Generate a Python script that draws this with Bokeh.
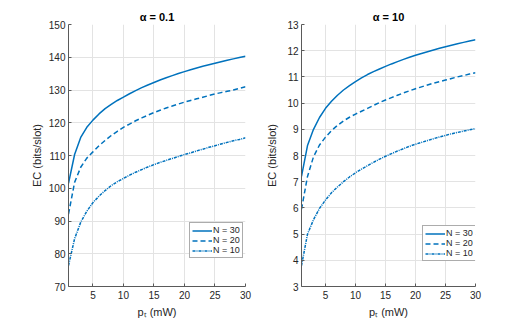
from bokeh.plotting import figure
from bokeh.layouts import row
from bokeh.models import Range1d, FixedTicker, Legend, LegendItem
from bokeh.embed import file_html
from bokeh.resources import INLINE

# ---- data ----
pt = [1, 2, 3, 4, 5, 6, 7, 8, 9, 10, 11, 12, 13, 14, 15,
      16, 17, 18, 19, 20, 21, 22, 23, 24, 25, 26, 27, 28, 29, 30]

a01_n30 = [101.5, 110.3, 115.5, 118.6, 120.8, 122.7, 124.3, 125.6, 126.8, 127.8,
           128.86, 129.82, 130.71, 131.53, 132.3, 133.04, 133.74, 134.4, 135.03, 135.62,
           136.18, 136.72, 137.23, 137.72, 138.19, 138.65, 139.08, 139.5, 139.91, 140.3]
a01_n20 = [92.1, 101.8, 106.4, 109.2, 111.1, 113.0, 114.6, 116.1, 117.4, 118.6,
           119.6, 120.6, 121.5, 122.3, 123.1, 123.8, 124.5, 125.1, 125.7, 126.3,
           126.8, 127.3, 127.8, 128.3, 128.8, 129.2, 129.6, 130.0, 130.5, 131.0]
a01_n10 = [76.4, 84.6, 89.6, 93.0, 95.6, 97.6, 99.3, 100.8, 102.0, 103.0,
           104.0, 104.9, 105.7, 106.5, 107.2, 107.9, 108.5, 109.1, 109.7, 110.3,
           110.8, 111.4, 111.9, 112.5, 113.0, 113.5, 114.0, 114.5, 114.9, 115.4]

a10_n30 = [7.2, 8.38, 9.0, 9.45, 9.8, 10.07, 10.3, 10.5, 10.67, 10.82,
           10.96, 11.09, 11.2, 11.3, 11.4, 11.495, 11.584, 11.668, 11.748, 11.823,
           11.895, 11.963, 12.028, 12.091, 12.151, 12.209, 12.265, 12.318, 12.37, 12.42]
a10_n20 = [5.95, 7.2, 7.95, 8.4, 8.7, 8.95, 9.15, 9.32, 9.46, 9.58,
           9.69, 9.8, 9.91, 10.02, 10.12, 10.21, 10.3, 10.39, 10.47, 10.55,
           10.62, 10.69, 10.76, 10.82, 10.88, 10.94, 11.0, 11.05, 11.11, 11.16]
a10_n10 = [3.8, 5.0, 5.55, 5.98, 6.3, 6.58, 6.8, 7.0, 7.18, 7.34,
           7.48, 7.61, 7.74, 7.86, 7.97, 8.07, 8.17, 8.26, 8.35, 8.43,
           8.5, 8.57, 8.64, 8.71, 8.77, 8.83, 8.88, 8.93, 8.98, 9.03]

x_ticks = [5, 10, 15, 20, 25, 30]
left_yticks = [70, 80, 90, 100, 110, 120, 130, 140, 150]
right_yticks = [3, 4, 5, 6, 7, 8, 9, 10, 11, 12, 13]
labels = ["N = 30", "N = 20", "N = 10"]
titles = ["\u03b1 = 0.1", "\u03b1 = 10"]

COLOR = "#0072BD"
TXT = "#262626"
FONT = "Liberation Sans"
DASHES = ["solid", "5 3", "3 1 1 1"]


def make_panel(title, series, yr, yticks, bl, br, lab_standoff, leg_loc):
    p = figure(width=263, height=320, output_backend="svg", toolbar_location=None,
               x_range=Range1d(1, 30), y_range=Range1d(*yr),
               min_border_left=bl, min_border_right=br,
               min_border_top=24, min_border_bottom=32)
    p.outline_line_color = None
    p.title.text = title
    p.title.align = "center"
    p.title.text_font = FONT
    p.title.text_font_size = "11px"
    p.title.text_font_style = "bold"
    p.title.text_color = "#000000"
    p.title.standoff = 3
    p.title.offset = 0

    items = []
    for ys, lab, dash in zip(series, labels, DASHES):
        r = p.line(pt, ys, line_color=COLOR, line_width=1.5, line_dash=dash)
        items.append(LegendItem(label=lab, renderers=[r]))

    for ax in (p.xaxis[0], p.yaxis[0]):
        ax.axis_line_color = "#5a5a5a"
        ax.major_tick_line_color = "#5a5a5a"
        ax.major_tick_in = 3
        ax.major_tick_out = 0
        ax.minor_tick_line_color = None
        ax.major_label_text_font = FONT
        ax.major_label_text_font_size = "10px"
        ax.major_label_text_color = TXT
        ax.axis_label_text_font = FONT
        ax.axis_label_text_font_size = "11px"
        ax.axis_label_text_font_style = "normal"
        ax.axis_label_text_color = TXT
    p.xaxis.ticker = FixedTicker(ticks=x_ticks)
    p.yaxis.ticker = FixedTicker(ticks=yticks)
    p.xaxis.axis_label = "p\u209c (mW)"
    p.yaxis.axis_label = "EC (bits/slot)"
    p.xaxis.major_label_standoff = 4
    p.yaxis.major_label_standoff = 3
    p.xaxis.axis_label_standoff = 4
    p.yaxis.axis_label_standoff = lab_standoff

    p.xgrid.ticker = FixedTicker(ticks=x_ticks)
    p.ygrid.ticker = FixedTicker(ticks=yticks)
    for g in (p.xgrid[0], p.ygrid[0]):
        g.grid_line_color = "#e3e3e3"
        g.grid_line_width = 1

    leg = Legend(items=items, location=leg_loc)
    leg.label_text_font = FONT
    leg.label_text_font_size = "9px"
    leg.label_text_color = TXT
    leg.glyph_width = 20
    leg.glyph_height = 9
    leg.label_height = 9
    leg.label_standoff = 1
    leg.spacing = 0
    leg.padding = 2
    leg.margin = 0
    leg.border_line_color = "#5a5a5a"
    leg.border_line_width = 1
    leg.background_fill_color = "white"
    leg.background_fill_alpha = 1
    p.add_layout(leg, "center")
    return p


p1 = make_panel(titles[0], [a01_n30, a01_n20, a01_n10], (70, 150), left_yticks,
                68, 18, 3, (121, 28))
p2 = make_panel(titles[1], [a10_n30, a10_n20, a10_n10], (3, 13), right_yticks,
                37, 51, 6, (121, 25))

layout = row(p1, p2)
html = file_html(layout, INLINE)
open("out.html", "w").write(html)
